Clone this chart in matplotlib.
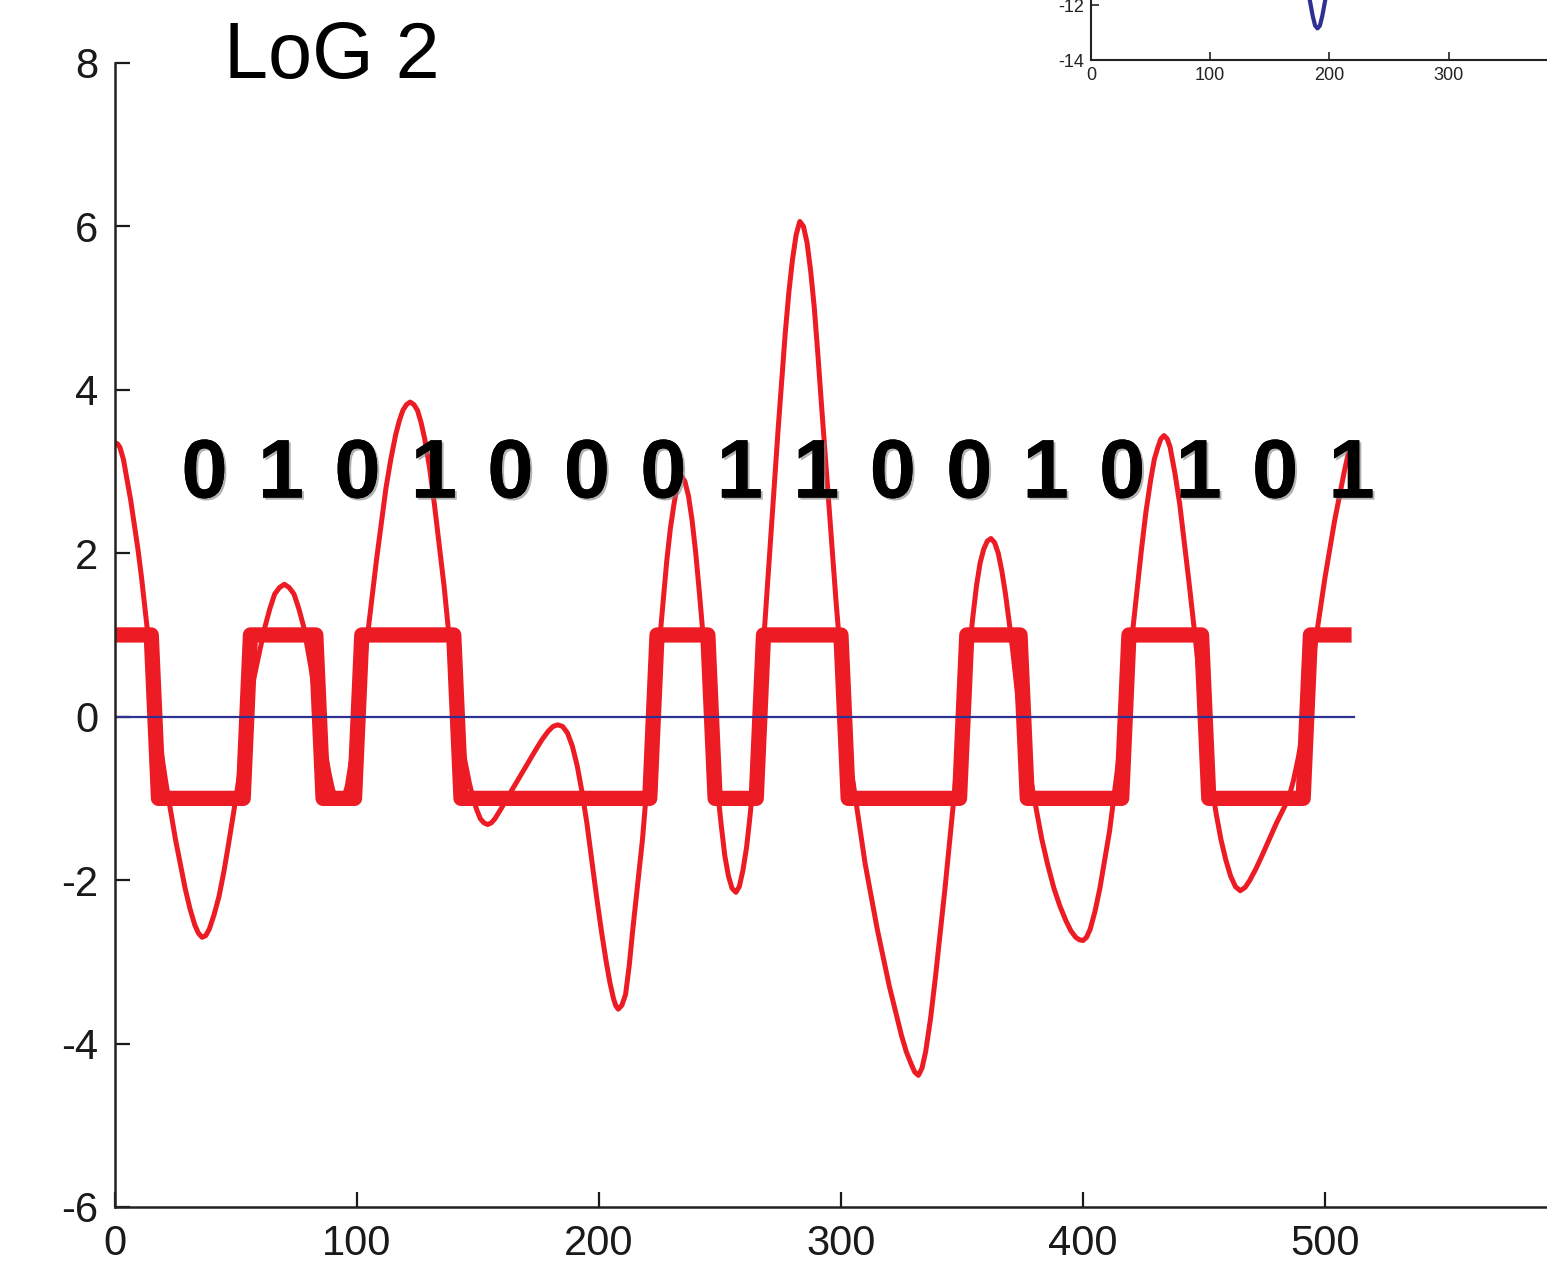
import matplotlib
matplotlib.use("Agg")
import matplotlib.pyplot as plt
import matplotlib.patheffects as pe
import numpy as np

# ---- data ----
# smooth LoG response (red thin curve)
log_x = [0, 1, 2, 3.5, 5, 6.5, 8, 9.5, 11, 12.5, 14, 15.5, 17,
         19, 21, 23, 25, 27, 29, 31, 33, 34.5, 36, 37.5, 39, 41, 43, 45, 47, 49, 51, 53, 54.5,
         56, 58, 60, 62, 64, 66, 68, 70, 72, 74, 76, 78, 79.5, 81, 82.5, 84,
         85.5, 87, 88.5, 90, 91.5, 93, 94.5, 96, 98, 100,
         102, 104, 106, 108, 110, 112, 114, 116, 117.5, 119, 120.5, 122, 123.5, 125, 126.5, 128, 130, 132, 134, 136, 137.5, 139, 141.5,
         143, 145, 146.5, 148, 149.5, 151, 152.5, 154, 155.5, 157, 159.5, 162, 165, 168, 171, 174, 176.5, 179, 181, 183, 185, 187, 189, 191, 193, 195, 197, 199, 201, 203, 204.5, 206, 207, 208, 209.5, 211, 212.5, 214, 216, 218, 220, 222,
         223.5, 225, 226.5, 228, 229.5, 231, 232.5, 234, 235.5, 237, 238.5, 240, 241.5, 243, 244.5, 246,
         247.5, 249, 250.5, 252, 253.5, 255, 256.6, 258, 259.5, 261, 262.2, 263.5, 264.6, 265.7,
         267, 268, 269.5, 271, 272.5, 274, 275.5, 277, 278.5, 280, 281.5, 283, 284.5, 286, 287.5, 289, 290.5, 292, 293.5, 295, 296.5, 298, 300, 301.6,
         303, 305, 307.5, 310, 312.5, 315, 317.5, 320, 322.5, 325, 327, 329, 330.5, 332, 333.5, 335, 337, 339, 341, 343, 345, 347, 348.5, 350,
         351.5, 353, 354.5, 356, 357.5, 359, 360.5, 362, 363.5, 365, 366.5, 368, 369.5, 371, 372.5, 374,
         376, 378, 380.5, 383, 385.5, 388, 390.5, 393, 395, 397, 398.5, 400, 401.5, 403, 405, 407, 409, 411, 412.5, 414, 415.5, 417,
         418.5, 420, 422, 424, 426, 428, 429.5, 431, 432.2, 433.5, 434.8, 436, 438, 440, 442, 444, 445.5, 447, 448.5, 450,
         451.5, 453, 455, 457, 459, 461, 463, 465, 467, 469, 471.5, 474, 477, 480, 482.5, 485, 487, 489, 490.5, 492,
         494, 496, 498, 500, 502, 504, 506, 508, 509.5, 511]
log_y = [3.35, 3.34, 3.3, 3.15, 2.9, 2.65, 2.35, 2.05, 1.7, 1.3, 0.9, 0.45, 0,
         -0.4, -0.8, -1.15, -1.5, -1.8, -2.1, -2.35, -2.55, -2.65, -2.7, -2.68, -2.6, -2.42, -2.2, -1.9, -1.55, -1.18, -0.8, -0.4, 0,
         0.28, 0.55, 0.83, 1.1, 1.32, 1.5, 1.58, 1.62, 1.58, 1.5, 1.32, 1.1, 0.85, 0.6, 0.3, 0,
         -0.22, -0.45, -0.7, -0.9, -1.0, -1.05, -1.0, -0.85, -0.48, 0,
         0.45, 0.9, 1.4, 1.9, 2.35, 2.8, 3.15, 3.45, 3.62, 3.75, 3.82, 3.85, 3.82, 3.75, 3.6, 3.4, 3.05, 2.6, 2.1, 1.6, 1.15, 0.7, 0,
         -0.3, -0.6, -0.82, -1.0, -1.14, -1.25, -1.3, -1.32, -1.3, -1.25, -1.13, -1.0, -0.85, -0.7, -0.55, -0.4, -0.28, -0.18, -0.12, -0.1, -0.12, -0.2, -0.36, -0.6, -0.92, -1.3, -1.75, -2.2, -2.62, -3.0, -3.25, -3.45, -3.54, -3.58, -3.53, -3.4, -3.05, -2.6, -2.05, -1.5, -0.78, 0,
         0.45, 0.9, 1.4, 1.9, 2.3, 2.6, 2.85, 2.95, 2.88, 2.7, 2.4, 2.0, 1.52, 1.0, 0.5, 0,
         -0.45, -0.9, -1.32, -1.7, -1.95, -2.1, -2.15, -2.08, -1.88, -1.6, -1.28, -0.9, -0.45, 0,
         0.5, 0.9, 1.55, 2.2, 2.85, 3.5, 4.1, 4.7, 5.2, 5.6, 5.9, 6.06, 6.0, 5.8, 5.45, 5.0, 4.42, 3.8, 3.2, 2.6, 2.0, 1.4, 0.68, 0,
         -0.5, -0.8, -1.3, -1.8, -2.2, -2.6, -2.95, -3.3, -3.6, -3.9, -4.1, -4.25, -4.35, -4.39, -4.3, -4.1, -3.7, -3.2, -2.65, -2.1, -1.5, -0.9, -0.42, 0,
         0.4, 0.8, 1.22, 1.6, 1.88, 2.05, 2.15, 2.18, 2.13, 2.0, 1.78, 1.5, 1.16, 0.8, 0.4, 0,
         -0.35, -0.7, -1.1, -1.5, -1.82, -2.1, -2.32, -2.5, -2.62, -2.7, -2.73, -2.74, -2.7, -2.6, -2.38, -2.1, -1.75, -1.4, -1.05, -0.7, -0.35, 0,
         0.45, 0.9, 1.45, 2.0, 2.5, 2.9, 3.15, 3.3, 3.4, 3.44, 3.4, 3.3, 2.98, 2.6, 2.1, 1.6, 1.2, 0.8, 0.4, 0,
         -0.4, -0.8, -1.18, -1.5, -1.75, -1.95, -2.08, -2.13, -2.09, -2.0, -1.86, -1.7, -1.5, -1.3, -1.15, -1.0, -0.78, -0.5, -0.25, 0,
         0.45, 0.9, 1.3, 1.7, 2.05, 2.4, 2.7, 3.0, 3.2, 3.35]

# thresholded signal (thick red square wave)
sq_x = [0, 15, 18, 53, 56, 83, 86, 99, 102, 140, 143, 221, 224, 245, 248,
        265, 268, 300, 303, 349, 352, 374, 377, 416, 419, 449, 452, 491, 494, 511]
sq_y = [1, 1, -1, -1, 1, 1, -1, -1, 1, 1, -1, -1, 1, 1, -1,
        -1, 1, 1, -1, -1, 1, 1, -1, -1, 1, 1, -1, -1, 1, 1]

# zero line
base_x = [0, 512]
base_y = [0, 0]

# decoded bits
bits = ["0", "1", "0", "1", "0", "0", "0", "1", "1", "0", "0", "1", "0", "1", "0", "1"]

# inset (cropped) blue curve
inset_x = [176, 180, 183, 186, 188, 190, 192, 194, 197, 200, 204]
inset_y = [-9.8, -10.9, -11.7, -12.4, -12.75, -12.85, -12.75, -12.4, -11.7, -10.9, -9.8]

RED = "#ED1C24"
BLUE = "#2E3192"

plt.rcParams["font.family"] = ["Liberation Sans", "DejaVu Sans"]
plt.rcParams["axes.unicode_minus"] = False

fig = plt.figure(figsize=(15.47, 12.69), dpi=100)

# main axes
ax = fig.add_axes([0.0743, 0.0489, 0.9386, 0.9015])
ax.plot(sq_x, sq_y, color=RED, lw=11, solid_joinstyle="round", solid_capstyle="butt")
ax.plot(log_x, log_y, color=RED, lw=3.6, solid_joinstyle="round")
ax.plot(base_x, base_y, color=BLUE, lw=1.6)

ax.set_xlim(0, 600)
ax.set_ylim(-6, 8)
ax.set_xticks([0, 100, 200, 300, 400, 500])
ax.set_yticks([-6, -4, -2, 0, 2, 4, 6, 8])
ax.tick_params(direction="in", length=11, width=1.6, labelsize=30, pad=12, colors="#1a1a1a")
for s in ["top", "right"]:
    ax.spines[s].set_visible(False)
for s in ["left", "bottom"]:
    ax.spines[s].set_linewidth(1.8)
    ax.spines[s].set_color("#222222")

# bit labels
bit_x = 37 + 31.6 * np.arange(len(bits))
for bx, b in zip(bit_x, bits):
    ax.text(bx, 2.95, b, fontsize=60, fontweight="bold", ha="center", va="center",
            color="black",
            path_effects=[pe.withSimplePatchShadow(offset=(1.5, -1.5), shadow_rgbFace="gray", alpha=0.6),
                          pe.Normal()])

fig.text(0.145, 0.955, "LoG 2", fontsize=57, ha="left", va="center")

# inset axes (cropped at top right)
ax2 = fig.add_axes([0.7052, 0.9527, 0.4008, 0.2167])
ax2.plot(inset_x, inset_y, color=BLUE, lw=3)
ax2.set_xlim(0, 520)
ax2.set_ylim(-14, -4)
ax2.set_xticks([0, 100, 200, 300])
ax2.set_yticks([-14, -12])
ax2.tick_params(direction="in", length=6, width=1.2, labelsize=13, pad=5, colors="#222222")
for s in ["top", "right"]:
    ax2.spines[s].set_visible(False)
for s in ["left", "bottom"]:
    ax2.spines[s].set_linewidth(1.5)
    ax2.spines[s].set_color("#222222")

fig.savefig("out.png", dpi=100)
